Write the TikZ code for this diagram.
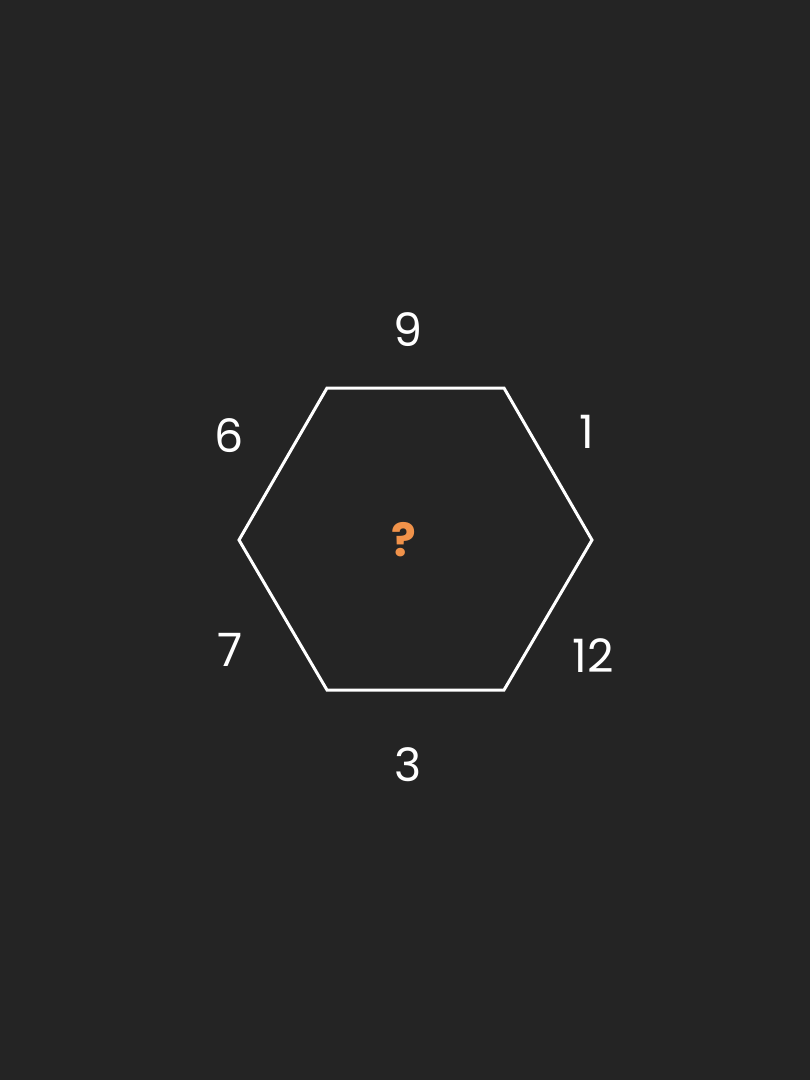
\documentclass[tikz,border=0pt]{standalone}
\usepackage{fontspec}
\setmainfont{Poppins}
\begin{document}
\begin{tikzpicture}[x=1pt,y=-1pt,
  lbl/.style={text=white,font=\fontsize{46}{46}\selectfont,inner sep=0pt},
  edge/.style={draw=white,line width=3pt,line join=miter}]
\fill[fill={rgb,255:red,36;green,36;blue,36}] (0,0) rectangle (810,1080);
\useasboundingbox (0,0) rectangle (810,1080);
\coordinate (v1) at (327,388);
\coordinate (v2) at (504,388);
\coordinate (v3) at (592,540);
\coordinate (v4) at (504,690);
\coordinate (v5) at (327,690);
\coordinate (v6) at (239,540);
\draw[edge] (v1) -- (v2) -- (v3) -- (v4) -- (v5) -- (v6) -- cycle;
\node[lbl] (l9) at (408,330) {9};
\node[lbl] (l1) at (587,432) {1};
\node[lbl] (l12) at (593,656) {12};
\node[lbl] (l3) at (408,765) {3};
\node[lbl] (l7) at (230,650) {7};
\node[lbl] (l6) at (229,436) {6};
\node[inner sep=0pt,text={rgb,255:red,240;green,146;blue,74},font=\fontsize{46}{46}\selectfont\bfseries] (q) at (404,540) {?};
\end{tikzpicture}
\end{document}
